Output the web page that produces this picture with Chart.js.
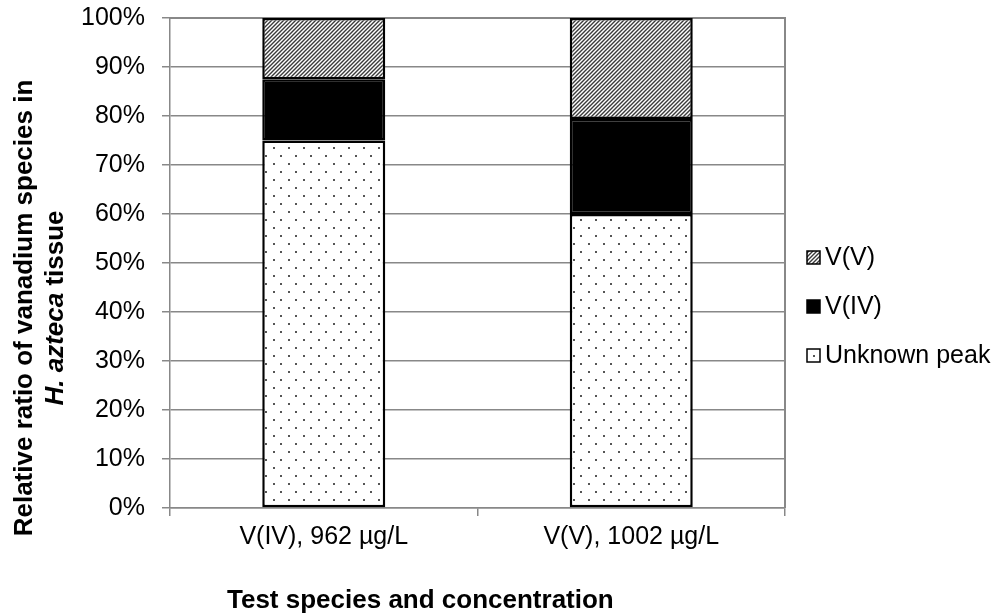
<!DOCTYPE html>
<html>
<head>
<meta charset="utf-8">
<script src="https://cdn.jsdelivr.net/npm/chart.js@4.4.0/dist/chart.umd.min.js"></script>
<style>
  html, body { margin: 0; padding: 0; background: #fff; }
  #wrap { width: 1008px; height: 616px; }
</style>
</head>
<body>
<div id="wrap"><canvas id="myChart" width="1008" height="616"></canvas></div>
<script>
// values (percent of total)
const categories = ['V(IV), 962 µg/L', 'V(V), 1002 µg/L'];
const unknownPeak = [75, 60];
const vIV = [12.5, 19.4];
const vV = [12.5, 20.6];
const seriesNames = ['Unknown peak', 'V(IV)', 'V(V)'];
const yTickValues = [0, 10, 20, 30, 40, 50, 60, 70, 80, 90, 100];

const FONT = "'Liberation Sans', Arial, sans-serif";
const FS = 25;      // tick labels and legend
const TFS = 26;     // axis titles

function makeHatch() {
    const c = document.createElement('canvas');
    c.width = 4; c.height = 4;
    const g = c.getContext('2d');
    g.fillStyle = '#fff';
    g.fillRect(0, 0, 4, 4);
    g.strokeStyle = '#3a3a3a';
    g.lineWidth = 1.4;
    g.beginPath();
    g.moveTo(-1, 5); g.lineTo(5, -1);
    g.moveTo(-1, 1); g.lineTo(1, -1);
    g.moveTo(3, 5); g.lineTo(5, 3);
    g.stroke();
    return g.createPattern(c, 'repeat');
}

function makeDots() {
    const c = document.createElement('canvas');
    c.width = 15; c.height = 16;
    const g = c.getContext('2d');
    g.fillStyle = '#fff';
    g.fillRect(0, 0, 15, 16);
    g.fillStyle = '#555';
    g.fillRect(3, 3, 2, 2);
    g.fillRect(10, 11, 2, 2);
    return g.createPattern(c, 'repeat');
}

const ctx = document.getElementById('myChart').getContext('2d');
const dotFill = makeDots();
const hatchFill = makeHatch();

const frameAndTitles = {
    id: 'frameAndTitles',
    beforeDatasetsDraw(chart) {
        const a = chart.chartArea;
        const c = chart.ctx;
        c.save();
        c.strokeStyle = '#888';
        c.lineWidth = 2;
        c.beginPath();
        c.moveTo(a.left, a.top);
        c.lineTo(a.right, a.top);
        c.lineTo(a.right, a.bottom);
        c.stroke();
        c.restore();
    },
    afterDraw(chart) {
        const c = chart.ctx;
        c.save();
        c.fillStyle = '#000';
        // y title, two lines, second with italic species name
        c.translate(25, chart.height / 2);
        c.rotate(-Math.PI / 2);
        c.textAlign = 'center';
        c.textBaseline = 'middle';
        c.font = 'bold ' + TFS + 'px ' + FONT;
        c.fillText('Relative ratio of vanadium species in', 0, 0);
        const p1 = 'H. azteca', p2 = ' tissue';
        c.font = 'italic bold ' + TFS + 'px ' + FONT;
        const w1 = c.measureText(p1).width;
        c.font = 'bold ' + TFS + 'px ' + FONT;
        const w2 = c.measureText(p2).width;
        c.textAlign = 'left';
        c.font = 'italic bold ' + TFS + 'px ' + FONT;
        c.fillText(p1, -(w1 + w2) / 2, 31);
        c.font = 'bold ' + TFS + 'px ' + FONT;
        c.fillText(p2, -(w1 + w2) / 2 + w1, 31);
        c.restore();

        // x title
        c.save();
        c.fillStyle = '#000';
        c.font = 'bold ' + TFS + 'px ' + FONT;
        c.textAlign = 'left';
        c.textBaseline = 'middle';
        c.fillText('Test species and concentration', 227, 601);
        c.restore();

        // legend, reversed order
        c.save();
        const ds = chart.data.datasets;
        c.font = FS + 'px ' + FONT;
        c.textBaseline = 'middle';
        c.textAlign = 'left';
        for (let i = ds.length - 1, k = 0; i >= 0; i--, k++) {
            const y = 258 + k * 49;
            c.fillStyle = ds[i].backgroundColor;
            c.fillRect(807, y - 7, 13, 13);
            c.strokeStyle = '#000';
            c.lineWidth = 1.5;
            c.strokeRect(807, y - 7, 13, 13);
            c.fillStyle = '#000';
            c.fillText(ds[i].label, 825, y);
        }
        c.restore();
    }
};

new Chart(ctx, {
    type: 'bar',
    data: {
        labels: categories,
        datasets: [
            { label: seriesNames[0], data: unknownPeak, backgroundColor: dotFill },
            { label: seriesNames[1], data: vIV, backgroundColor: '#000' },
            { label: seriesNames[2], data: vV, backgroundColor: hatchFill }
        ].map(d => Object.assign(d, {
            borderColor: '#000',
            borderWidth: 2.5,
            borderSkipped: false,
            categoryPercentage: 1,
            barPercentage: 0.4
        }))
    },
    options: {
        responsive: false,
        animation: false,
        layout: { padding: { top: 18, right: 223, left: 0, bottom: 0 } },
        plugins: {
            legend: { display: false },
            tooltip: { enabled: false }
        },
        scales: {
            x: {
                stacked: true,
                afterFit: s => { s.height = 108; s.paddingLeft = 0; s.paddingRight = 0; },
                grid: { drawOnChartArea: false, offset: true, color: '#888', tickLength: 8, lineWidth: 1.5 },
                border: { color: '#888', width: 1.5 },
                ticks: { color: '#000', font: { family: FONT, size: FS }, padding: 6, maxRotation: 0 }
            },
            y: {
                stacked: true,
                min: 0,
                max: 100,
                afterFit: s => { s.width = 170; s.paddingTop = 0; s.paddingBottom = 0; },
                afterBuildTicks: s => { s.ticks = yTickValues.map(v => ({ value: v })); },
                grid: { color: '#888', tickLength: 8, lineWidth: 1.5 },
                border: { color: '#888', width: 1.5 },
                ticks: {
                    color: '#000',
                    font: { family: FONT, size: FS },
                    padding: 17,
                    callback: v => v + '%'
                }
            }
        }
    },
    plugins: [frameAndTitles]
});
</script>
</body>
</html>
